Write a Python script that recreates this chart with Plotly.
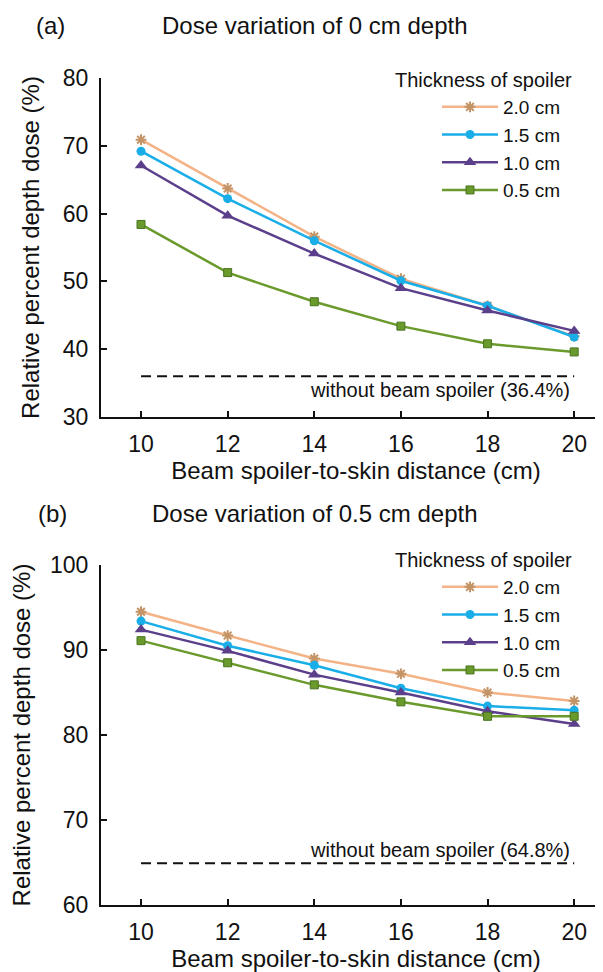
import plotly.graph_objects as go

# ---------------- data ----------------
distance = [10, 12, 14, 16, 18, 20]
series_names = ["2.0 cm", "1.5 cm", "1.0 cm", "0.5 cm"]

# (a) 0 cm depth
a_20 = [70.9, 63.7, 56.6, 50.4, 46.4, 41.9]
a_15 = [69.2, 62.2, 56.0, 50.1, 46.4, 41.8]
a_10 = [67.1, 59.7, 54.1, 49.0, 45.7, 42.7]
a_05 = [58.4, 51.3, 47.0, 43.4, 40.8, 39.6]
baseline_a = 36.0
baseline_a_label = "without beam spoiler (36.4%)"

# (b) 0.5 cm depth
b_20 = [94.5, 91.7, 89.0, 87.2, 85.0, 84.0]
b_15 = [93.4, 90.5, 88.2, 85.5, 83.4, 82.9]
b_10 = [92.4, 89.9, 87.1, 85.0, 82.8, 81.3]
b_05 = [91.1, 88.5, 85.9, 83.9, 82.2, 82.2]
baseline_b = 64.9
baseline_b_label = "without beam spoiler (64.8%)"

panel_titles = ["Dose variation of 0 cm depth", "Dose variation of 0.5 cm depth"]
panel_letters = ["(a)", "(b)"]
x_title = "Beam spoiler-to-skin distance (cm)"
y_title = "Relative percent depth dose (%)"
legend_title = "Thickness of spoiler"

# ---------------- styles ----------------
FONT = "Liberation Sans, Arial, sans-serif"
styles = [
    dict(color="#F3B387", symbol="asterisk-open", size=9, mcolor="#C49466", mline=2),
    dict(color="#1AAEE8", symbol="circle", size=9, mcolor="#1AAEE8", mline=0),
    dict(color="#5B3F8B", symbol="triangle-up", size=11, mcolor="#5B3F8B", mline=0),
    dict(color="#6A9A2C", symbol="square", size=8, mcolor="#6A9A2C", mline=1),
]

fig = go.Figure()

def add_panel(ys, xaxis, yaxis, legend, base):
    for name, y, st in zip(series_names, ys, styles):
        marker = dict(symbol=st["symbol"], size=st["size"], color=st["mcolor"])
        if st["symbol"] == "asterisk-open":
            marker["line"] = dict(color=st["mcolor"], width=st["mline"])
        elif st["mline"]:
            marker["line"] = dict(color="#4A7420", width=st["mline"])
        fig.add_trace(go.Scatter(
            x=distance, y=y, name=name, mode="lines+markers",
            line=dict(color=st["color"], width=2.5),
            marker=marker, xaxis=xaxis, yaxis=yaxis, legend=legend,
            showlegend=True,
        ))
    fig.add_trace(go.Scatter(
        x=[distance[0], distance[-1]], y=[base, base], mode="lines",
        line=dict(color="#111111", width=2, dash="10px,6px"),
        xaxis=xaxis, yaxis=yaxis, showlegend=False, hoverinfo="skip",
    ))

add_panel([a_20, a_15, a_10, a_05], "x", "y", "legend", baseline_a)
add_panel([b_20, b_15, b_10, b_05], "x2", "y2", "legend2", baseline_b)

W, H = 603, 972
ML, MR, MT, MB = 93, 0, 70, 75
PW = W - ML - MR
PH = H - MT - MB

def py(pixel_y):
    return 1 - (pixel_y - MT) / PH

def px(pixel_x):
    return (pixel_x - ML) / PW

xr = [9.076, 20.85]
axis_common = dict(
    showline=True, linecolor="#111111", linewidth=2,
    ticks="inside", ticklen=6, tickwidth=2, tickcolor="#111111",
    showgrid=False, zeroline=False,
    tickfont=dict(family=FONT, size=23, color="#111111"),
)
TS = 24

fig.update_layout(
    width=W, height=H,
    margin=dict(l=ML, r=MR, t=MT, b=MB),
    plot_bgcolor="white", paper_bgcolor="white",
    font=dict(family=FONT, color="#111111"),
    xaxis=dict(domain=[0, 1], anchor="y", range=xr, tickvals=distance,
               title=dict(text=x_title, font=dict(size=TS), standoff=4),
               ticklabelstandoff=5, **axis_common),
    yaxis=dict(domain=[py(409), 1], anchor="x", range=[30, 80], dtick=10,
               title=dict(text=y_title, font=dict(size=TS), standoff=16),
               ticklabelstandoff=6, **axis_common),
    xaxis2=dict(domain=[0, 1], anchor="y2", range=xr, tickvals=distance,
                title=dict(text=x_title, font=dict(size=TS), standoff=4),
                ticklabelstandoff=5, **axis_common),
    yaxis2=dict(domain=[0, py(557)], anchor="x2", range=[60, 100], dtick=10,
                title=dict(text=y_title, font=dict(size=TS), standoff=16),
                ticklabelstandoff=6, **axis_common),
    legend=dict(x=px(429), y=py(80), xanchor="left", yanchor="top",
                bgcolor="rgba(0,0,0,0)", itemwidth=56, font=dict(size=19)),
    legend2=dict(x=px(429), y=py(560), xanchor="left", yanchor="top",
                 bgcolor="rgba(0,0,0,0)", itemwidth=56, font=dict(size=19)),
    showlegend=True,
)

annotations = [
    dict(text=panel_letters[0], x=px(26), y=py(18), xref="paper", yref="paper",
         xanchor="left", yanchor="middle", showarrow=False, font=dict(size=TS)),
    dict(text=panel_titles[0], x=px(152), y=py(18), xref="paper", yref="paper",
         xanchor="left", yanchor="middle", showarrow=False, font=dict(size=TS)),
    dict(text=panel_letters[1], x=px(28), y=py(506), xref="paper", yref="paper",
         xanchor="left", yanchor="middle", showarrow=False, font=dict(size=TS)),
    dict(text=panel_titles[1], x=px(142), y=py(506), xref="paper", yref="paper",
         xanchor="left", yanchor="middle", showarrow=False, font=dict(size=TS)),
    dict(text=legend_title, x=px(566), y=py(72), xref="paper", yref="paper",
         xanchor="right", yanchor="middle", showarrow=False, font=dict(size=20)),
    dict(text=legend_title, x=px(566), y=py(552), xref="paper", yref="paper",
         xanchor="right", yanchor="middle", showarrow=False, font=dict(size=20)),
    dict(text=baseline_a_label, x=distance[-1], y=baseline_a, xref="x", yref="y",
         xanchor="right", yanchor="top", yshift=-1, xshift=-2, showarrow=False,
         font=dict(size=20)),
    dict(text=baseline_b_label, x=distance[-1], y=baseline_b, xref="x2", yref="y2",
         xanchor="right", yanchor="bottom", yshift=0, xshift=-2, showarrow=False,
         font=dict(size=20)),
]
fig.update_layout(annotations=annotations)

fig.write_html("out.html")
